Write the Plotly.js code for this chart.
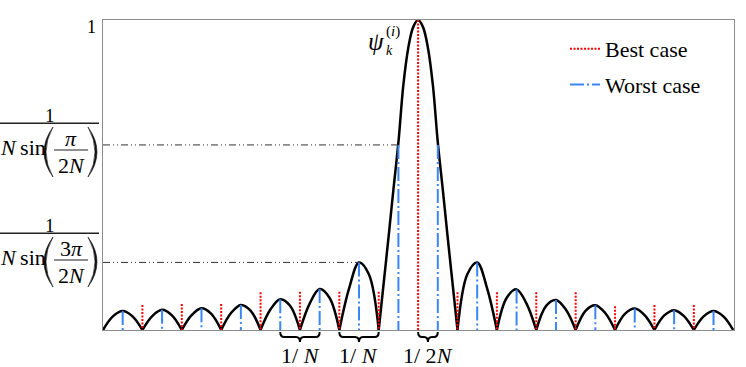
<!DOCTYPE html>
<html>
<head>
<meta charset="utf-8">
<script src="https://cdn.plot.ly/plotly-3.0.1.min.js"></script>
<style>
  body { margin: 0; background: white; }
  #plot { width: 746px; height: 367px; }
</style>
</head>
<body>
<div id="plot"></div>
<script>
// x in units of 1/N, main lobe centred on 0

// main lobe
let mainX = [-1, -0.875, -0.75, -0.625, -0.5, -0.375, -0.25, -0.125, 0, 0.125, 0.25, 0.375, 0.5, 0.625, 0.75, 0.875, 1];
let mainY = [0, 0.15, 0.30, 0.455, 0.605, 0.79, 0.91, 0.977, 1, 0.977, 0.91, 0.79, 0.605, 0.455, 0.30, 0.15, 0];

// side lobes: start of each lobe and the 5 values sampled across it
let lobeStart = [-8, -7, -6, -5, -4, -3, -2, 1, 2, 3, 4, 5, 6, 7];
let lobeStep = [0, 0.25, 0.5, 0.75, 1];
let lobeY = [
  [0, 0.044, 0.061, 0.044, 0],
  [0, 0.045, 0.065, 0.047, 0],
  [0, 0.048, 0.070, 0.052, 0],
  [0, 0.055, 0.081, 0.062, 0],
  [0, 0.066, 0.099, 0.078, 0],
  [0, 0.086, 0.132, 0.104, 0],
  [0, 0.135, 0.218, 0.180, 0],
  [0, 0.180, 0.218, 0.135, 0],
  [0, 0.104, 0.131, 0.086, 0],
  [0, 0.078, 0.097, 0.066, 0],
  [0, 0.062, 0.080, 0.055, 0],
  [0, 0.052, 0.069, 0.048, 0],
  [0, 0.047, 0.064, 0.045, 0],
  [0, 0.044, 0.061, 0.044, 0]
];

// best case (red dotted) markers
let bestX = [-7, -6, -5, -4, -3, -2, -1, 0, 1, 2, 3, 4, 5, 6, 7];
let bestH = [0.081, 0.084, 0.084, 0.122, 0.123, 0.123, 0.123, 1, 0.122, 0.122, 0.122, 0.122, 0.077, 0.081, 0.081];

// worst case (blue dash-dot) markers
let worstX = [-7.5, -6.5, -5.5, -4.5, -3.5, -2.5, -1.5, -0.5, 0.5, 1.5, 2.5, 3.5, 4.5, 5.5, 6.5, 7.5];
let worstH = [0.061, 0.065, 0.070, 0.081, 0.099, 0.132, 0.218, 0.597, 0.597, 0.218, 0.131, 0.097, 0.080, 0.069, 0.064, 0.061];

// horizontal guide levels and where they stop
let levelY = [0.597, 0.218];
let levelEnd = [-0.5, -1.5];

const SERIF = '"Liberation Serif", "Times New Roman", Times, serif';

// build the curve, one spline segment per lobe
let curveX = [];
let curveY = [];
function addLobe(xs, ys) {
  curveX.push(...xs, null);
  curveY.push(...ys, null);
}
for (let i = 0; i < 7; i++) {
  addLobe(lobeStep.map(s => lobeStart[i] + s), lobeY[i]);
}
addLobe(mainX, mainY);
for (let i = 7; i < lobeStart.length; i++) {
  addLobe(lobeStep.map(s => lobeStart[i] + s), lobeY[i]);
}

function stems(xs, hs) {
  let x = [], y = [];
  xs.forEach((v, i) => {
    x.push(v, v, null);
    y.push(hs[i], 0, null);
  });
  return {x: x, y: y};
}
let best = stems(bestX, bestH);
let worst = stems(worstX, worstH);

let traces = [
  {
    x: curveX, y: curveY, mode: 'lines', type: 'scatter',
    line: {color: 'black', width: 2.5, shape: 'spline'},
    connectgaps: false, cliponaxis: false, showlegend: false, hoverinfo: 'skip'
  },
  {
    x: best.x, y: best.y, mode: 'lines', type: 'scatter', name: 'Best case',
    legendgroup: 'b',
    line: {color: '#ff0000', width: 2, dash: '2px,1.5px'}
  },
  {
    x: worst.x, y: worst.y, mode: 'lines', type: 'scatter', name: 'Worst case',
    legendgroup: 'w',
    line: {color: '#3a86f5', width: 2, dash: '14px,3px,2px,3px'}
  }
];
levelY.forEach((lv, i) => {
  traces.push({
    x: [-8, levelEnd[i]], y: [lv, lv], mode: 'lines', type: 'scatter',
    line: {color: '#333', width: 1, dash: '7px,3px,1px,3px,1px,3px'},
    showlegend: false, hoverinfo: 'skip'
  });
});

// pixel -> paper helpers for the hand-set labels
function px(x) { return (x - 103) / 631; }
function py(y) { return (330 - y) / 310; }

function label(text, x, y, size) {
  return {
    xref: 'paper', yref: 'paper', x: px(x), y: py(y), text: text,
    showarrow: false, xanchor: 'center', yanchor: 'middle',
    font: {family: SERIF, size: size, color: 'black'}
  };
}

let annotations = [label('1', 91.5, 27, 18)];
let shapes = [];

// the two fraction tick labels
function fraction(dy, numTop) {
  annotations.push(label('1', 50, 115.5 + dy, 19));
  annotations.push(label('<i>N</i>\u2009sin', 23, 147 + dy, 22));
  annotations.push(label(numTop, 71, 138.5 + dy, 22));
  annotations.push(label('2<i>N</i>', 71.5, 165 + dy, 22));
  shapes.push({type: 'line', xref: 'paper', yref: 'paper',
    x0: px(0), x1: px(99), y0: py(123.3 + dy), y1: py(123.3 + dy),
    line: {color: '#222', width: 1.5}});
  shapes.push({type: 'line', xref: 'paper', yref: 'paper',
    x0: px(54), x1: px(88), y0: py(150 + dy), y1: py(150 + dy),
    line: {color: '#222', width: 1.2}});
  let top = 127 + dy, bot = 177 + dy, mid = 152 + dy;
  let lp = 'M' + px(53) + ',' + py(top) + ' Q' + px(35) + ',' + py(mid) + ' ' + px(53) + ',' + py(bot) +
           ' Q' + px(39) + ',' + py(mid) + ' ' + px(53) + ',' + py(top) + ' Z';
  let rp = 'M' + px(88) + ',' + py(top) + ' Q' + px(106) + ',' + py(mid) + ' ' + px(88) + ',' + py(bot) +
           ' Q' + px(102) + ',' + py(mid) + ' ' + px(88) + ',' + py(top) + ' Z';
  [lp, rp].forEach(p => shapes.push({type: 'path', xref: 'paper', yref: 'paper', path: p,
    fillcolor: '#111', line: {color: '#111', width: 0.6}}));
}
fraction(0, '<i>π</i>');
fraction(110, '3<i>π</i>');

// braces under the axis
function brace(a, b) {
  let m = (a + b) / 2, h = 0.1;
  let top = py(332), body = py(337), tip = py(342);
  let p = 'M' + a + ',' + top + ' Q' + a + ',' + body + ' ' + (a + h) + ',' + body +
          ' L' + (m - h) + ',' + body + ' Q' + m + ',' + body + ' ' + m + ',' + tip +
          ' Q' + m + ',' + body + ' ' + (m + h) + ',' + body +
          ' L' + (b - h) + ',' + body + ' Q' + b + ',' + body + ' ' + b + ',' + top;
  shapes.push({type: 'path', xref: 'x', yref: 'paper', path: p, line: {color: 'black', width: 2}});
}
brace(-3.5, -2.5);
brace(-2, -1);
brace(0, 0.5);

annotations.push(label('1/ <i>N</i>', 300, 355, 22));
annotations.push(label('1/ <i>N</i>', 358, 355, 22));
annotations.push(label('1/ 2<i>N</i>', 428, 355, 22));

// psi label
annotations.push(label('<i>ψ</i>', 376, 42, 25));
annotations.push(label('(<i>i</i>)', 393, 32, 15));
annotations.push(label('<i>k</i>', 389, 51, 14));

let axisStyle = {
  showgrid: false, zeroline: false, showticklabels: false, ticks: '',
  showline: true, mirror: true, linecolor: '#8c8c8c', linewidth: 1
};

let layout = {
  width: 746, height: 367,
  margin: {l: 103, r: 12, t: 20, b: 37},
  paper_bgcolor: 'white', plot_bgcolor: 'white',
  font: {family: SERIF, size: 22, color: 'black'},
  xaxis: Object.assign({range: [-8, 8.02]}, axisStyle),
  yaxis: Object.assign({range: [0, 1]}, axisStyle),
  showlegend: true,
  legend: {
    x: px(565), y: py(28), xanchor: 'left', yanchor: 'top',
    bgcolor: 'rgba(0,0,0,0)', font: {family: SERIF, size: 22, color: 'black'},
    traceorder: 'grouped', tracegroupgap: 4
  },
  annotations: annotations,
  shapes: shapes
};

Plotly.newPlot('plot', traces, layout, {staticPlot: true});
</script>
</body>
</html>
